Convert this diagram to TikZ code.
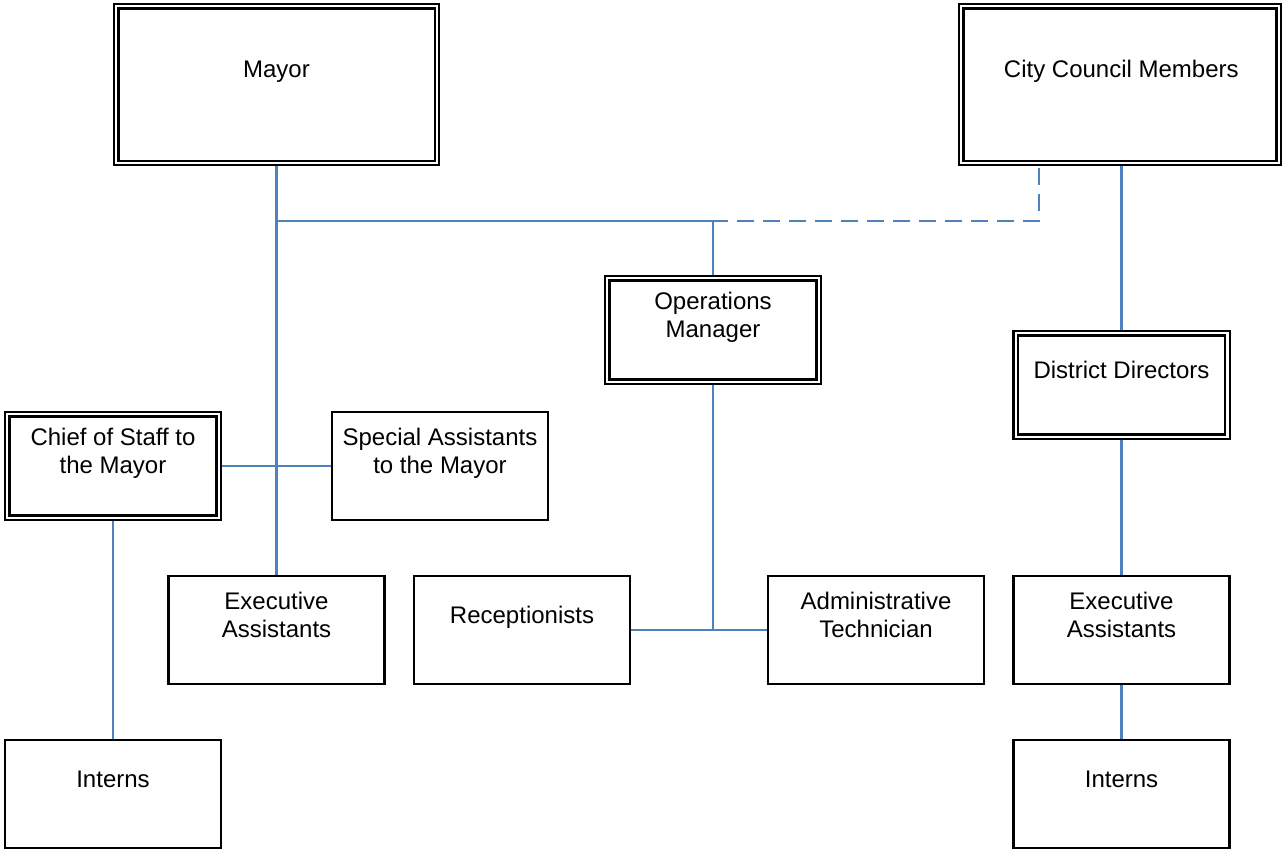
\documentclass[tikz,border=0pt]{standalone}
\usepackage{fontspec}
\setmainfont{Liberation Sans}
\usetikzlibrary{backgrounds}
\definecolor{linkblue}{RGB}{79,129,189}
\begin{document}
\begin{tikzpicture}[x=0.75pt,y=-0.75pt,
  box/.style={draw=black, fill=white, line width=1.6pt, inner sep=0pt,
    minimum width=162pt, minimum height=81pt},
  dbox/.style={draw=black, fill=white, line width=1.6pt, double=white,
    double distance=1.8pt, inner sep=0pt, minimum width=158.7pt, minimum height=77.7pt},
  lab/.style={font=\fontsize{18}{21}\selectfont, align=center, anchor=base, inner sep=0pt},
  conn/.style={draw=linkblue, line width=1.6pt},
  dashconn/.style={conn, dash pattern=on 12.75pt off 6.75pt}]
\useasboundingbox (0,0) rectangle (1284,851);

% boxes
\node[dbox, minimum width=240.5pt, minimum height=117.5pt] (mayor) at (276.5,84.5) {};
\node[dbox, minimum width=238.2pt, minimum height=117.5pt] (council) at (1120,84.5) {};
\node[dbox] (ops) at (713,330) {};
\node[dbox] (district) at (1121.5,385) {};
\node[dbox] (chief) at (113,466) {};
\node[box] (special) at (440,466) {};
\node[box] (execL) at (276.5,630) {};
\node[box] (recept) at (522,630) {};
\node[box] (admin) at (876,630) {};
\node[box] (execR) at (1121.5,630) {};
\node[box] (internsL) at (113,794) {};
\node[box] (internsR) at (1121.5,794) {};

% texts (base anchor = baseline of the last line)
\node[lab] (mayorT) at ([yshift=5.25pt]mayor.center) {Mayor};
\node[lab] (councilT) at ([xshift=1pt,yshift=5.25pt]council.center) {City Council Members};
\node[lab] (opsT) at ([yshift=-5.8pt]ops.center) {Operations\\Manager};
\node[lab] (districtT) at ([yshift=5.25pt]district.center) {District Directors};
\node[lab] (chiefT) at ([yshift=-5.8pt]chief.center) {Chief of Staff to\\the Mayor};
\node[lab] (specialT) at ([yshift=-5.8pt]special.center) {Special Assistants\\to the Mayor};
\node[lab] (execLT) at ([yshift=-5.8pt]execL.center) {Executive\\Assistants};
\node[lab] (receptT) at ([yshift=5.25pt]recept.center) {Receptionists};
\node[lab] (adminT) at ([yshift=-5.8pt]admin.center) {Administrative\\Technician};
\node[lab] (execRT) at ([yshift=-5.8pt]execR.center) {Executive\\Assistants};
\node[lab] (internsLT) at ([yshift=5.25pt]internsL.center) {Interns};
\node[lab] (internsRT) at ([yshift=5.25pt]internsR.center) {Interns};

% connector points
\coordinate (bus) at (276.5,221);
\coordinate (dashstart) at (633,221);
\coordinate (councilDash) at (1039,160);
\coordinate (opsJoin) at (713,630);

\begin{scope}[on background layer]
  \draw[conn] (mayor.south) -- (execL.north);
  \draw[conn] (bus) -| (ops.north);
  \draw[dashconn] (dashstart) -| (councilDash);
  \draw[conn] (chief.east) -- (special.west);
  \draw[conn] (chief.south) -- (internsL.north);
  \draw[conn] (ops.south) -- (opsJoin);
  \draw[conn] (recept.east) -- (admin.west);
  \draw[conn] (district.north |- council.south) -- (district.north);
  \draw[conn] (district.south) -- (execR.north);
  \draw[conn] (execR.south) -- (internsR.north);
\end{scope}
\end{tikzpicture}
\end{document}
